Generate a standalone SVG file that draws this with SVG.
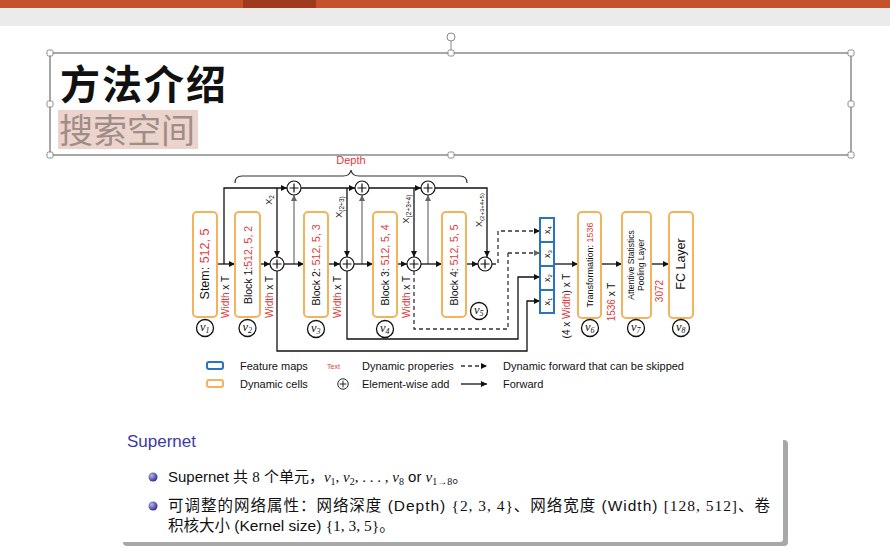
<svg xmlns="http://www.w3.org/2000/svg" width="890" height="548" viewBox="0 0 890 548">
<defs>
<marker id="ah" viewBox="0 0 8 8" refX="8" refY="4" markerWidth="6" markerHeight="6" markerUnits="userSpaceOnUse" orient="auto"><path d="M0,0 L8,4 L0,8 z" fill="#111"/></marker>
<marker id="ahg" viewBox="0 0 8 8" refX="8" refY="4" markerWidth="6" markerHeight="6" markerUnits="userSpaceOnUse" orient="auto"><path d="M0,0 L8,4 L0,8 z" fill="#666"/></marker>
<radialGradient id="ball" cx="0.35" cy="0.35" r="0.7"><stop offset="0" stop-color="#b4b4f0"/><stop offset="1" stop-color="#2a2a85"/></radialGradient>
<g id="plus"><circle r="7" fill="#fff" stroke="#111" stroke-width="1.2"/><path d="M-4.5,0 H4.5 M0,-4.5 V4.5" stroke="#111" stroke-width="1.2"/></g>
</defs>
<style>
.ln{fill:none;stroke:#111;stroke-width:1.3}
.lg{fill:none;stroke:#777;stroke-width:1.3}
.dsh{fill:none;stroke:#333;stroke-width:1.3;stroke-dasharray:4 3}
.cell{fill:#fff;stroke:#f2b35c;stroke-width:2}
.fm{fill:#fff;stroke:#2a73c0;stroke-width:2}
.t{font-family:"Liberation Sans",Arial,sans-serif;fill:#111}
.r{fill:#dc3b3b}
.vc{fill:#fff;stroke:#111;stroke-width:1.3}
.vt{font-family:"Liberation Serif",serif;font-style:italic;font-size:12.5px;fill:#111}
.h{fill:#fff;stroke:#8a8a8a;stroke-width:1}
.cn{font-family:"Liberation Sans","Noto Sans CJK SC",sans-serif}
.m{font-family:"Liberation Serif",serif}
</style>

<!-- window chrome -->
<rect x="0" y="0" width="890" height="548" fill="#fff"/>
<rect x="0" y="0" width="890" height="8" fill="#c4532c"/>
<rect x="243" y="0" width="73" height="8" fill="#9e3b1e"/>
<rect x="0" y="8" width="890" height="18" fill="#ebebeb"/>

<!-- title box -->
<g id="titlebox">
<rect x="50" y="53" width="801" height="102" fill="none" stroke="#8a8a8a" stroke-width="1.5"/>
<line x1="451" y1="41" x2="451" y2="53" stroke="#8a8a8a"/>
<circle cx="451" cy="37" r="4" class="h"/>
<rect x="47" y="50" width="6" height="6" rx="1.5" class="h"/>
<rect x="448" y="50" width="6" height="6" rx="1.5" class="h"/>
<rect x="848" y="50" width="6" height="6" rx="1.5" class="h"/>
<rect x="47" y="101" width="6" height="6" rx="1.5" class="h"/>
<rect x="848" y="101" width="6" height="6" rx="1.5" class="h"/>
<rect x="47" y="152" width="6" height="6" rx="1.5" class="h"/>
<rect x="448" y="152" width="6" height="6" rx="1.5" class="h"/>
<rect x="848" y="152" width="6" height="6" rx="1.5" class="h"/>
<text x="60" y="99" font-family="'Noto Sans CJK SC',sans-serif" font-size="40" font-weight="700" fill="#111" textLength="166">方法介绍</text>
<rect x="58" y="110" width="140" height="39" fill="#ecd4cc"/>
<text x="59" y="143" font-family="'Noto Sans CJK SC',sans-serif" font-size="34" fill="#a08c88">搜索空间</text>
</g>

<!-- connectors -->
<g id="connectors">
<path class="ln" d="M224,264 V188 H287" marker-end="url(#ah)"/>
<path class="ln" d="M301,188 H355" marker-end="url(#ah)"/>
<path class="ln" d="M369,188 H421" marker-end="url(#ah)"/>
<path class="ln" d="M435,188 H487 V257" marker-end="url(#ah)"/>
<path class="ln" d="M277,188 V257" marker-end="url(#ah)"/>
<path class="ln" d="M347,188 V257" marker-end="url(#ah)"/>
<path class="ln" d="M414,188 V257" marker-end="url(#ah)"/>
<path class="lg" d="M294,264 V195" marker-end="url(#ahg)"/>
<path class="lg" d="M362,264 V195" marker-end="url(#ahg)"/>
<path class="lg" d="M428,264 V195" marker-end="url(#ahg)"/>
<path class="ln" d="M217,264 H235" marker-end="url(#ah)"/>
<path class="ln" d="M260,264 H270" marker-end="url(#ah)"/>
<path class="ln" d="M284,264 H304" marker-end="url(#ah)"/>
<path class="ln" d="M328,264 H340" marker-end="url(#ah)"/>
<path class="ln" d="M354,264 H373" marker-end="url(#ah)"/>
<path class="ln" d="M397,264 H407" marker-end="url(#ah)"/>
<path class="ln" d="M421,264 H442" marker-end="url(#ah)"/>
<path class="ln" d="M466,264 H478" marker-end="url(#ah)"/>
<path class="ln" d="M277,271 V351 H527 V301 H540" marker-end="url(#ah)"/>
<path class="ln" d="M347,271 V339 H518 V277 H540" marker-end="url(#ah)"/>
<path class="dsh" d="M414,271 V329 H508 V253" />
<path class="dsh" d="M508,253 H540" stroke="#888" marker-end="url(#ahg)"/>
<path class="dsh" d="M492,264 H498 V231 H540" marker-end="url(#ah)"/>
<path class="ln" d="M554,264 H578" marker-end="url(#ah)"/>
<path class="ln" d="M601,264 H622" marker-end="url(#ah)"/>
<path class="ln" d="M651,264 H669" marker-end="url(#ah)"/>
<path d="M235,183 Q235,176 242,176 H343 Q350,176 351,170 Q352,176 359,176 H460 Q467,176 467,183" fill="none" stroke="#333" stroke-width="1.2"/>
<text class="t r" x="351" y="164" font-size="11" text-anchor="middle">Depth</text>
<g class="t" font-size="9" text-anchor="middle">
<text transform="translate(272,200) rotate(-90)">X<tspan font-size="6.5" dy="2">2</tspan></text>
<text transform="translate(342,207) rotate(-90)">X<tspan font-size="6.5" dy="2">(2+3)</tspan></text>
<text transform="translate(409,209) rotate(-90)">X<tspan font-size="6.5" dy="2">(2+3+4)</tspan></text>
<text transform="translate(482,210) rotate(-90)">X<tspan font-size="6" dy="2">(2+3+4+5)</tspan></text>
</g>
<g class="t" font-size="10" text-anchor="middle">
<text transform="translate(229,297) rotate(-90)"><tspan class="r">Width</tspan> x T</text>
<text transform="translate(273,297) rotate(-90)"><tspan class="r">Width</tspan> x T</text>
<text transform="translate(341,297) rotate(-90)"><tspan class="r">Width</tspan> x T</text>
<text transform="translate(410,297) rotate(-90)"><tspan class="r">Width</tspan> x T</text>
<text transform="translate(570,306) rotate(-90)">(4 x <tspan class="r">Width</tspan>) x T</text>
<text transform="translate(615,302) rotate(-90)"><tspan class="r">1536</tspan> x T</text>
<text class="r" transform="translate(663,291) rotate(-90)">3072</text>
</g>
</g>

<!-- nodes -->
<g id="stem"><rect class="cell" x="193" y="212" width="24" height="105" rx="4"/>
<text class="t" font-size="12.5" text-anchor="middle" transform="translate(209,264) rotate(-90)">Stem: <tspan class="r">512, 5</tspan></text>
<circle class="vc" cx="205" cy="328" r="8.5"/><text class="vt" x="200" y="331">v<tspan font-size="8" dy="2">1</tspan></text></g>

<g id="block1"><rect class="cell" x="235" y="212" width="25" height="105" rx="4"/>
<text class="t" font-size="10.5" text-anchor="middle" transform="translate(251.5,265) rotate(-90)">Block 1:<tspan class="r">512, 5, 2</tspan></text>
<circle class="vc" cx="247.5" cy="328" r="8.5"/><text class="vt" x="242.5" y="331">v<tspan font-size="8" dy="2">2</tspan></text></g>

<g id="block2"><rect class="cell" x="304" y="212" width="24" height="105" rx="4"/>
<text class="t" font-size="10.5" text-anchor="middle" transform="translate(320,265) rotate(-90)">Block 2: <tspan class="r">512, 5, 3</tspan></text>
<circle class="vc" cx="316" cy="329" r="8.5"/><text class="vt" x="311" y="332">v<tspan font-size="8" dy="2">3</tspan></text></g>

<g id="block3"><rect class="cell" x="373" y="212" width="24" height="105" rx="4"/>
<text class="t" font-size="10.5" text-anchor="middle" transform="translate(389,265) rotate(-90)">Block 3: <tspan class="r">512, 5, 4</tspan></text>
<circle class="vc" cx="385" cy="329" r="8.5"/><text class="vt" x="380" y="332">v<tspan font-size="8" dy="2">4</tspan></text></g>

<g id="block4"><rect class="cell" x="442" y="212" width="24" height="105" rx="4"/>
<text class="t" font-size="10.5" text-anchor="middle" transform="translate(458,265) rotate(-90)">Block 4: <tspan class="r">512, 5, 5</tspan></text>
<circle class="vc" cx="479" cy="311" r="8.5"/><text class="vt" x="474" y="314">v<tspan font-size="8" dy="2">5</tspan></text></g>

<g id="plus-top1"><use href="#plus" x="294" y="188"/></g>
<g id="plus-top2"><use href="#plus" x="362" y="188"/></g>
<g id="plus-top3"><use href="#plus" x="428" y="188"/></g>
<g id="plus1"><use href="#plus" x="277" y="264"/></g>
<g id="plus2"><use href="#plus" x="347" y="264"/></g>
<g id="plus3"><use href="#plus" x="414" y="264"/></g>
<g id="plus4"><use href="#plus" x="485" y="264"/></g>

<g id="featuremaps">
<rect class="fm" x="540" y="218" width="14" height="24"/>
<rect class="fm" x="540" y="242" width="14" height="24"/>
<rect class="fm" x="540" y="266" width="14" height="24"/>
<rect class="fm" x="540" y="290" width="14" height="23"/>
<g class="t" font-size="9" text-anchor="middle">
<text transform="translate(550,230) rotate(-90)">x<tspan font-size="6" dy="1.5">4</tspan></text>
<text transform="translate(550,254) rotate(-90)">x<tspan font-size="6" dy="1.5">3</tspan></text>
<text transform="translate(550,278) rotate(-90)">x<tspan font-size="6" dy="1.5">2</tspan></text>
<text transform="translate(550,301.5) rotate(-90)">x<tspan font-size="6" dy="1.5">1</tspan></text>
</g></g>

<g id="transformation"><rect class="cell" x="578" y="212" width="23" height="106" rx="4"/>
<text class="t" font-size="9" text-anchor="middle" transform="translate(593,265) rotate(-90)">Transformation: <tspan class="r">1536</tspan></text>
<circle class="vc" cx="590" cy="328" r="8.5"/><text class="vt" x="585" y="331">v<tspan font-size="8" dy="2">6</tspan></text></g>

<g id="attentive"><rect class="cell" x="622" y="212" width="29" height="106" rx="4"/>
<text class="t" font-size="8.5" text-anchor="middle" transform="translate(634,265) rotate(-90)">Attentive Statistics</text>
<text class="t" font-size="8.5" text-anchor="middle" transform="translate(644,265) rotate(-90)">Pooling Layer</text>
<circle class="vc" cx="636" cy="328" r="8.5"/><text class="vt" x="631" y="331">v<tspan font-size="8" dy="2">7</tspan></text></g>

<g id="fc"><rect class="cell" x="669" y="212" width="24" height="106" rx="4"/>
<text class="t" font-size="12.5" text-anchor="middle" transform="translate(685,264) rotate(-90)">FC Layer</text>
<circle class="vc" cx="681" cy="328" r="8.5"/><text class="vt" x="676" y="331">v<tspan font-size="8" dy="2">8</tspan></text></g>

<!-- legend -->
<g id="legend" class="t" font-size="11">
<rect x="207" y="362" width="16" height="7" rx="2" fill="#fff" stroke="#2a73c0" stroke-width="2"/>
<rect x="207" y="380" width="16" height="7" rx="2" fill="#fff" stroke="#f2b35c" stroke-width="2"/>
<text x="240" y="370">Feature maps</text>
<text x="240" y="388">Dynamic cells</text>
<text x="327" y="369" font-size="7" class="r">Text</text>
<text x="362" y="370">Dynamic properies</text>
<use href="#plus" transform="translate(343,384) scale(0.75)"/>
<text x="362" y="388">Element-wise add</text>
<path class="dsh" d="M461,366 H487" stroke="#111" marker-end="url(#ah)"/>
<path class="ln" d="M461,384 H487" marker-end="url(#ah)"/>
<text x="503" y="370">Dynamic forward that can be skipped</text>
<text x="503" y="388">Forward</text>
</g>

<!-- bottom block -->
<g id="supernet">
<rect x="123" y="440" width="665" height="106" rx="4" fill="#a8a8a8"/>
<rect x="119" y="436" width="664" height="106" rx="3" fill="#fff"/>
<text x="127" y="447" font-family="'Liberation Sans',sans-serif" font-size="17" fill="#3b3ba0">Supernet</text>
<circle cx="153" cy="477" r="4.5" fill="url(#ball)"/>
<circle cx="153" cy="506" r="4.5" fill="url(#ball)"/>
<text class="cn" x="168" y="482" font-size="15" fill="#111">Supernet 共 <tspan class="m">8</tspan> 个单元，<tspan class="m" font-style="italic">v</tspan><tspan class="m" font-size="10" dy="3">1</tspan><tspan class="m" dy="-3">, </tspan><tspan class="m" font-style="italic">v</tspan><tspan class="m" font-size="10" dy="3">2</tspan><tspan class="m" dy="-3">, . . . , </tspan><tspan class="m" font-style="italic">v</tspan><tspan class="m" font-size="10" dy="3">8</tspan><tspan dy="-3"> or </tspan><tspan class="m" font-style="italic">v</tspan><tspan class="m" font-size="10" dy="3">1→8</tspan><tspan dy="-3">。</tspan></text>
<text class="cn" x="168" y="511" font-size="15.5" fill="#111" textLength="602" lengthAdjust="spacing">可调整的网络属性：网络深度 (Depth) <tspan class="m">{2, 3, 4}</tspan>、网络宽度 (Width) <tspan class="m">[128, 512]</tspan>、卷</text>
<text class="cn" x="168" y="531" font-size="15.5" fill="#111">积核大小 (Kernel size) <tspan class="m">{1, 3, 5}</tspan>。</text>
</g>
</svg>
